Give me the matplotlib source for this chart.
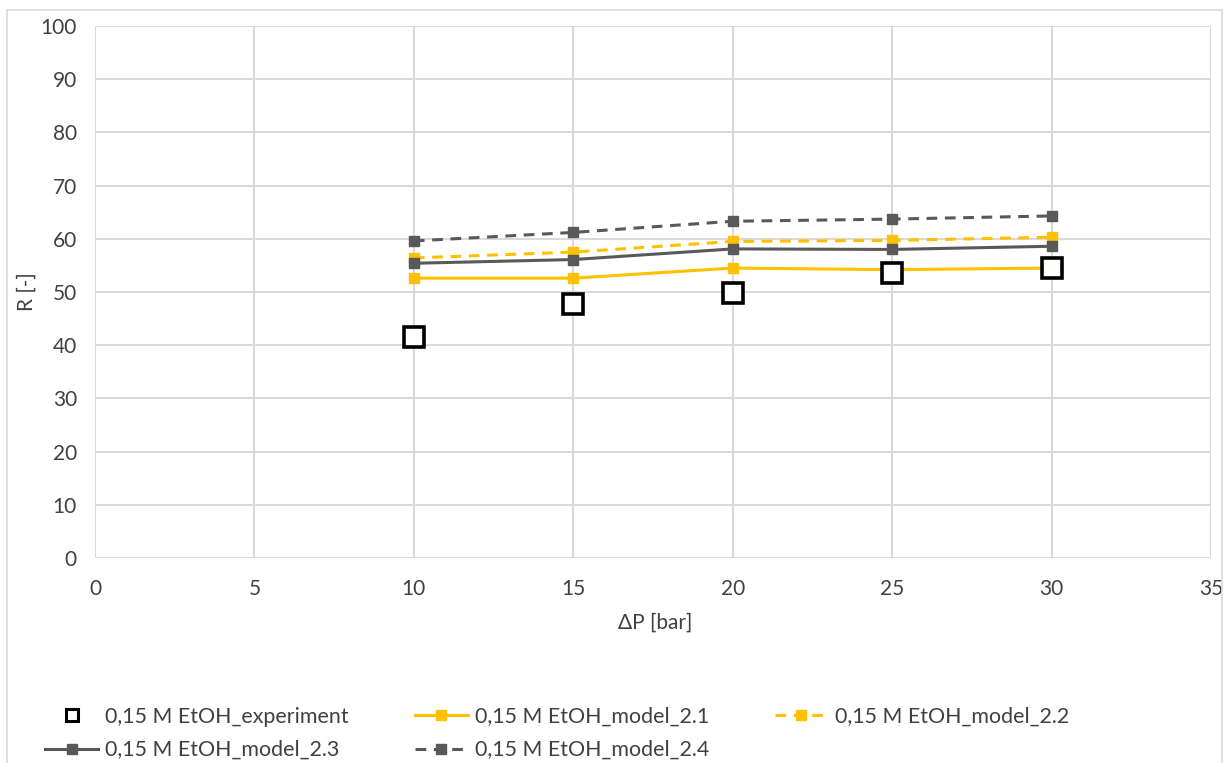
import matplotlib
matplotlib.use("Agg")
import matplotlib.pyplot as plt
from matplotlib.lines import Line2D
from matplotlib.patches import Rectangle

plt.rcParams['font.family'] = ['Lato', 'DejaVu Sans']

# Pressure difference [bar]
dp = [10, 15, 20, 25, 30]

# Rejection R [-]
r_experiment = [41.5, 47.8, 49.9, 53.6, 54.6]
r_model_21 = [52.6, 52.6, 54.5, 54.2, 54.5]
r_model_22 = [56.4, 57.5, 59.5, 59.7, 60.3]
r_model_23 = [55.4, 56.1, 58.1, 58.0, 58.6]
r_model_24 = [59.6, 61.2, 63.3, 63.7, 64.3]

labels = ["0,15 M EtOH_experiment", "0,15 M EtOH_model_2.1",
          "0,15 M EtOH_model_2.2", "0,15 M EtOH_model_2.3",
          "0,15 M EtOH_model_2.4"]

x_ticks = [0, 5, 10, 15, 20, 25, 30, 35]
y_ticks = [0, 10, 20, 30, 40, 50, 60, 70, 80, 90, 100]

YELLOW = "#FFC000"
DARK = "#595959"
GRID = "#D9D9D9"
TXT = "#404040"
FS = 15
LFS = 15.4

W, H = 1224, 763
fig = plt.figure(figsize=(W / 100, H / 100), dpi=100)
fig.patches.append(Rectangle((7 / W, -0.01), (1222 - 7) / W, 1 - 10 / H + 0.01,
                             transform=fig.transFigure, fill=False,
                             edgecolor=GRID, linewidth=1.2))

ax_left, ax_right, ax_top, ax_bottom = 95, 1211, 26, 558
ax = fig.add_axes([ax_left / W, 1 - ax_bottom / H,
                   (ax_right - ax_left) / W, (ax_bottom - ax_top) / H])
ax.set_xlim(0, 35)
ax.set_ylim(0, 100)
ax.set_xticks(x_ticks)
ax.set_yticks(y_ticks)
ax.grid(True, color=GRID, linewidth=1.5)
ax.set_axisbelow(True)
for s in ax.spines.values():
    s.set_visible(False)
ax.tick_params(length=0, labelsize=FS, colors=TXT)
ax.tick_params(axis='x', pad=15)
ax.tick_params(axis='y', pad=13)

lw = 2.2
ms = 7
l21, = ax.plot(dp, r_model_21, color=YELLOW, lw=lw, marker='s', ms=ms, label=labels[1])
l22, = ax.plot(dp, r_model_22, color=YELLOW, lw=lw, ls=(0, (3.5, 2.5)), marker='s', ms=ms, label=labels[2])
l23, = ax.plot(dp, r_model_23, color=DARK, lw=lw, marker='s', ms=ms, label=labels[3])
l24, = ax.plot(dp, r_model_24, color=DARK, lw=lw, ls=(0, (3.5, 2.5)), marker='s', ms=ms, label=labels[4])
lexp, = ax.plot(dp, r_experiment, ls='none', marker='s', ms=14, mfc='white',
                mec='black', mew=2.6, label=labels[0], zorder=5)

ax.set_xlabel("ΔP [bar]", fontsize=FS, color=TXT)
ax.set_ylabel("R [-]", fontsize=FS, color=TXT)
ax.xaxis.set_label_coords((655 - ax_left) / (ax_right - ax_left),
                          (ax_bottom - 623) / (ax_bottom - ax_top))
ax.yaxis.set_label_coords((27 - ax_left) / (ax_right - ax_left),
                          (ax_bottom - 292) / (ax_bottom - ax_top))
ax.xaxis.label.set_va('center')
ax.yaxis.label.set_va('center')

# Legend laid out row-wise in three columns below the plot
h_exp = Line2D([], [], ls='none', marker='s', ms=9, mfc='white', mec='black', mew=2.2)
handles = [h_exp, l23, l21, l24, l22]
leg_labels = [labels[0], labels[3], labels[1], labels[4], labels[2]]
fs_px = LFS * 100 / 72
bpad = 0.4
fig.legend(handles, leg_labels, ncol=3, loc='center left',
           bbox_to_anchor=((45 - bpad * fs_px) / W, 1 - 733.5 / H),
           borderaxespad=0, frameon=False,
           fontsize=LFS, handlelength=53 / fs_px, handletextpad=7 / fs_px,
           columnspacing=66 / fs_px, labelspacing=0.62, labelcolor=TXT,
           borderpad=bpad)

fig.savefig("out.png", dpi=100)
